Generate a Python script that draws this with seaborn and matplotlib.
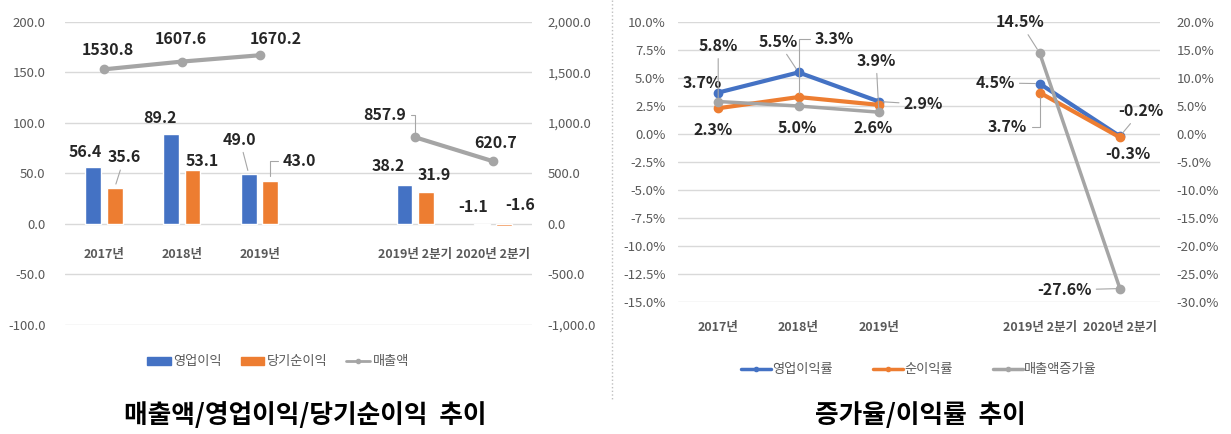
import numpy as np
import pandas as pd
import seaborn as sns
import matplotlib.pyplot as plt
from matplotlib.lines import Line2D
from matplotlib.patches import Patch

sns.set_theme(style="white")
plt.rcParams['font.family'] = ['Noto Sans CJK KR', 'DejaVu Sans']
plt.rcParams['axes.unicode_minus'] = False

# data (2019 / 2019 2분기 사이에 빈 칸 하나)
categories = ["2017년", "2018년", "2019년", " ", "2019년 2분기", "2020년 2분기"]
op_profit = [56.4, 89.2, 49.0, np.nan, 38.2, -1.1]      # 영업이익
net_profit = [35.6, 53.1, 43.0, np.nan, 31.9, -1.6]     # 당기순이익
sales = [1530.8, 1607.6, 1670.2, np.nan, 857.9, 620.7]  # 매출액

op_margin = [3.7, 5.5, 2.9, np.nan, 4.5, -0.2]          # 영업이익률
net_margin = [2.3, 3.3, 2.6, np.nan, 3.7, -0.3]         # 순이익률
sales_growth = [5.8, 5.0, 3.9, np.nan, 14.5, -27.6]     # 매출액증가율

BLUE, ORANGE, GRAY = "#4472C4", "#ED7D31", "#A5A5A5"
TICK = "#595959"
LBL = "#262626"
GRID = "#D9D9D9"

fig = plt.figure(figsize=(12.31, 4.34), dpi=100)
fig.patch.set_facecolor("white")

def style_axes(a):
    for s in a.spines.values():
        s.set_visible(False)
    a.tick_params(axis='both', length=0, labelsize=9.5, labelcolor=TICK)

def label(a, x, y, text, dx, dy, leader=False, conn="arc3"):
    kw = {}
    if leader:
        kw['arrowprops'] = dict(arrowstyle='-', color="#A6A6A6", lw=0.8,
                                shrinkA=1, shrinkB=3, connectionstyle=conn)
    a.annotate(text, (x, y), xytext=(dx, dy), textcoords='offset points',
               ha='center', va='center', fontsize=11.5, fontweight='bold',
               color=LBL, **kw)

# ---------------- left: 매출액/영업이익/당기순이익 ----------------
ax = fig.add_axes([0.0528, 0.2512, 0.3794, 0.6982])
bars = pd.DataFrame({
    'cat': categories * 2,
    'series': ['영업이익'] * 6 + ['당기순이익'] * 6,
    'value': op_profit + net_profit,
}).dropna()
sns.barplot(data=bars, x='cat', y='value', hue='series', order=categories,
            hue_order=['영업이익', '당기순이익'], palette=[BLUE, ORANGE],
            saturation=1, width=0.55, gap=0.26, errorbar=None, legend=False, ax=ax)
ax.set_ylim(-100, 200)
ax.set_xlim(-0.5, 5.5)
ax.set_yticks(np.arange(-100, 201, 50))
ax.set_yticklabels([f"{v:.1f}" for v in np.arange(-100, 201, 50)])
ax.set_xlabel("")
ax.set_ylabel("")
style_axes(ax)
ax.spines['bottom'].set_position(('data', 0))
ax.tick_params(axis='x', pad=17, labelsize=9)
for t in ax.get_xticklabels():
    t.set_fontweight('bold')
ax.tick_params(axis='y', pad=14)
ax.yaxis.grid(True, color=GRID, lw=1)
ax.xaxis.grid(False)
ax.set_axisbelow(True)

ax2 = ax.twinx()
ax2.plot(range(len(categories)), sales, color=GRAY, lw=3, marker='o', ms=6)
ax2.set_ylim(-1000, 2000)
ax2.set_yticks(np.arange(-1000, 2001, 500))
ax2.set_yticklabels([f"{v:,.1f}" for v in np.arange(-1000, 2001, 500)])
style_axes(ax2)
ax2.tick_params(axis='y', pad=11)
ax2.grid(False)

off = 0.1375
op_off = [(-6, 11, False), (-8, 11.5, False), (-6.5, 25, True), None, (-12, 14, False), (-7, 12, False)]
net_off = [(7, 22, True), (7, 7, False), (21, 14, True), None, (6, 12, False), (11.5, 14, False)]
sales_off = [(3, 14, False), (-1, 16, False), (12, 12, False), None, (-22, 16, True), (1.5, 13, False)]
for i in range(len(categories)):
    if op_off[i]:
        dx, dy, ld = op_off[i]
        label(ax, i - off, max(op_profit[i], 0), f"{op_profit[i]:.1f}", dx, dy, ld)
    if net_off[i]:
        dx, dy, ld = net_off[i]
        conn = "angle,angleA=0,angleB=90,rad=0" if i == 2 else "arc3"
        label(ax, i + off, max(net_profit[i], 0), f"{net_profit[i]:.1f}", dx, dy, ld, conn)
    if sales_off[i]:
        dx, dy, ld = sales_off[i]
        conn = "angle,angleA=0,angleB=90,rad=0" if i == 4 else "arc3"
        label(ax2, i, sales[i], f"{sales[i]:.1f}", dx, dy, ld, conn)

fig.legend(handles=[Patch(color=BLUE, label='영업이익'),
                    Patch(color=ORANGE, label='당기순이익'),
                    Line2D([], [], color=GRAY, lw=2, marker='o', ms=3, label='매출액')],
           loc='center', bbox_to_anchor=(278 / 1231, 1 - 362 / 434), ncol=3,
           frameon=False, fontsize=9.5, labelcolor=TICK, handlelength=1.8,
           handleheight=0.5, handletextpad=0.2, columnspacing=1.4)

# ---------------- right: 증가율/이익률 ----------------
bx = fig.add_axes([0.5508, 0.3041, 0.3916, 0.6452])
x = np.arange(len(categories))
bx.plot(x, op_margin, color=BLUE, lw=3, marker='o', ms=6, zorder=3)
bx.plot(x, net_margin, color=ORANGE, lw=3, marker='o', ms=6, zorder=3)
bx.set_xlim(-0.5, 5.5)
bx.set_ylim(-15, 10)
yt = np.arange(-15, 10.1, 2.5)
bx.set_yticks(yt)
bx.set_yticklabels([f"{v:.1f}%" for v in yt])
bx.set_xticks(x)
bx.set_xticklabels(categories)
style_axes(bx)
bx.tick_params(axis='x', pad=14, labelsize=9)
for t in bx.get_xticklabels():
    t.set_fontweight('bold')
bx.tick_params(axis='y', pad=9)
bx.yaxis.grid(True, color=GRID, lw=1)
bx.xaxis.grid(False)
bx.set_axisbelow(True)

bx2 = bx.twinx()
bx2.plot(x, sales_growth, color=GRAY, lw=2.5, marker='o', ms=6)
bx2.set_ylim(-30, 20)
yt2 = np.arange(-30, 20.1, 5)
bx2.set_yticks(yt2)
bx2.set_yticklabels([f"{v:.1f}%" for v in yt2])
style_axes(bx2)
bx2.tick_params(axis='y', pad=12)
bx2.grid(False)

elbow = "angle,angleA=0,angleB=90,rad=0"
opm_off = [(-11.5, 7, False, "arc3"), (-14.5, 22, True, "arc3"), (32, -2, True, "arc3"), None,
           (-32, 0.5, True, "arc3"), (15, 18, True, "arc3")]
netm_off = [(-3.5, -16, False, "arc3"), (26, 42, True, elbow), (-4, -17, False, "arc3"), None,
            (-23, -25, True, elbow), (6, -12, False, "arc3")]
gr_off = [(0, 40, True, "arc3"), (-1, -16, False, "arc3"), (-2, 37, True, "arc3"), None,
          (-14, 22, True, "arc3"), (-40, -1, True, "arc3")]
for i in range(len(categories)):
    if opm_off[i]:
        dx, dy, ld, c = opm_off[i]
        label(bx, i, op_margin[i], f"{op_margin[i]:.1f}%", dx, dy, ld, c)
    if netm_off[i]:
        dx, dy, ld, c = netm_off[i]
        label(bx, i, net_margin[i], f"{net_margin[i]:.1f}%", dx, dy, ld, c)
    if gr_off[i]:
        dx, dy, ld, c = gr_off[i]
        label(bx2, i, sales_growth[i], f"{sales_growth[i]:.1f}%", dx, dy, ld, c)

fig.legend(handles=[Line2D([], [], color=BLUE, lw=2.5, marker='o', ms=3, label='영업이익률'),
                    Line2D([], [], color=ORANGE, lw=2.5, marker='o', ms=3, label='순이익률'),
                    Line2D([], [], color=GRAY, lw=2.5, marker='o', ms=3, label='매출액증가율')],
           loc='center', bbox_to_anchor=(919 / 1231, 1 - 370 / 434), ncol=3,
           frameon=False, fontsize=9.5, labelcolor=TICK, handlelength=2.3,
           handletextpad=0.1, columnspacing=3.0)

# titles + divider
fig.text(305 / 1231, 1 - 415 / 434, "매출액/영업이익/당기순이익  추이", ha='center', va='center',
         fontsize=18.5, fontweight='bold', color='black')
fig.text(920 / 1231, 1 - 415 / 434, "증가율/이익률  추이", ha='center', va='center',
         fontsize=18.5, fontweight='bold', color='black')
fig.add_artist(Line2D([612 / 1231, 612 / 1231], [1, 1 - 400 / 434], transform=fig.transFigure,
                      ls=':', color='#BFBFBF', lw=1))

fig.savefig("out.png", dpi=100, facecolor="white")
